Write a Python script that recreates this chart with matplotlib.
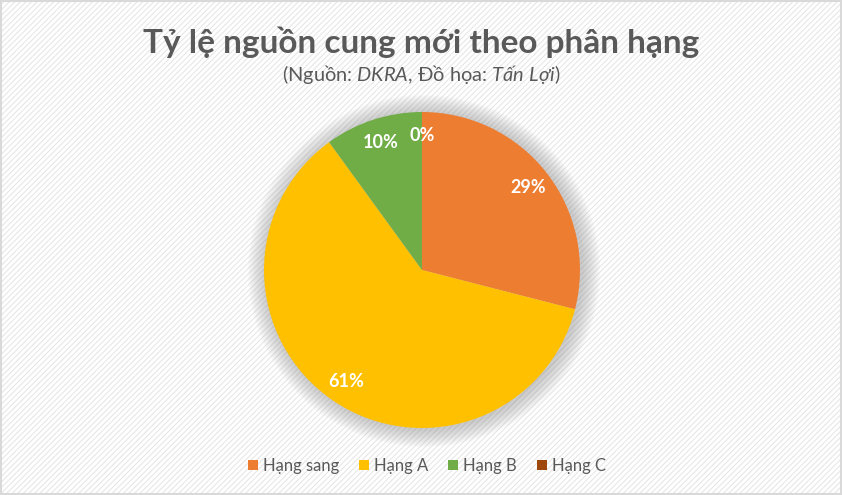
import matplotlib
matplotlib.use("Agg")
from matplotlib import pyplot as plt
from matplotlib.patches import Circle, Rectangle
import numpy as np

# data
categories = ["Hạng sang", "Hạng A", "Hạng B", "Hạng C"]
shares = [29, 61, 10, 0]
labels = ["29%", "61%", "10%", "0%"]
colors = ["#ED7D31", "#FFC000", "#70AD47", "#9E480E"]

plt.rcParams['font.family'] = ['Lato', 'DejaVu Sans']
plt.rcParams['mathtext.fontset'] = 'custom'
plt.rcParams['mathtext.it'] = 'Lato:italic'
plt.rcParams['mathtext.rm'] = 'Lato'

fig = plt.figure(figsize=(8.42, 4.95), dpi=100)
fig.patch.set_facecolor("white")

# background with thin diagonal stripes
bg = fig.add_axes([0, 0, 1, 1])
bg.set_xlim(0, 842)
bg.set_ylim(0, 495)
bg.axis("off")
matplotlib.rcParams['hatch.linewidth'] = 0.7
bg.add_patch(Rectangle((1, 1), 840, 493, facecolor="white", edgecolor="#E4E4E4",
                       hatch="//////", lw=0))
bg.add_patch(Rectangle((1, 1), 840, 493, facecolor="none", edgecolor="#D9D9D9", lw=1.5))

# soft shadow around the pie
cx, cy, r = 422, 495 - 270, 158
for k in range(14, 0, -1):
    bg.add_patch(Circle((cx + 2, cy - 1), r + k * 1.3, facecolor="#8A8A8A",
                        alpha=0.035, lw=0))

# pie
ax = fig.add_axes([(cx - r) / 842, (cy - r) / 495, 2 * r / 842, 2 * r / 495])
wedges, texts = ax.pie(shares, colors=colors, startangle=90, counterclock=False,
                       labels=labels, labeldistance=0.85,
                       wedgeprops=dict(linewidth=0),
                       textprops=dict(color="white", fontsize=13, fontweight="bold"))
for t in texts:
    t.set_ha("center")
    t.set_va("center")
ax.set_xlim(-1, 1)
ax.set_ylim(-1, 1)
ax.set_aspect("equal")

# title and source line
fig.text(0.5, 1 - 42 / 495, "Tỷ lệ nguồn cung mới theo phân hạng", ha="center", va="center",
         fontsize=24, fontweight="bold", color="#595959")
fig.text(0.5, 1 - 75 / 495,
         r"(Nguồn: $\mathit{DKRA}$, Đồ họa: $\mathit{Tấn\ Lợi}$)",
         ha="center", va="center", fontsize=14.4, color="#595959")

leg = fig.legend(wedges, categories, loc="center", bbox_to_anchor=(427 / 842, 1 - 466 / 495),
                 ncol=4, frameon=False, fontsize=12, handlelength=0.6, handleheight=0.6,
                 handletextpad=0.3, columnspacing=1.2, labelcolor="#595959")

fig.savefig("out.png", dpi=100)
